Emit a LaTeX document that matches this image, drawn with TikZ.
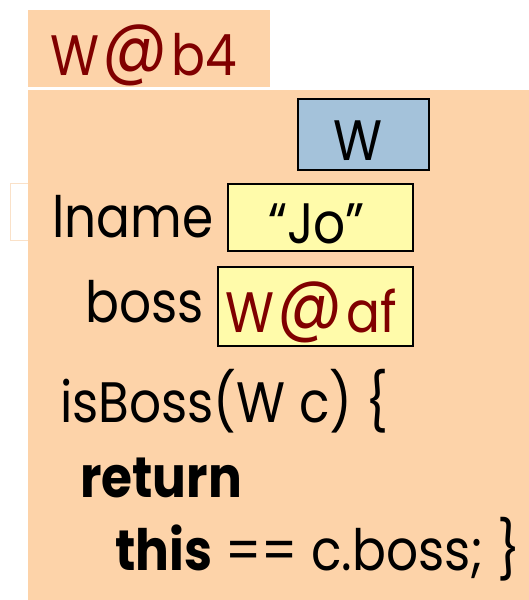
\documentclass[tikz,border=0pt]{standalone}
\usepackage{fontspec}
\setmainfont{Poppins}[FakeStretch=0.88]
\newfontfamily\popbold{Poppins}[UprightFont=* Bold,FakeStretch=0.88]
\newcommand{\bigat}{\kern3pt\raisebox{4pt}{\scalebox{1.28}{@}}\kern4pt}
\definecolor{peach}{RGB}{253,211,169}
\definecolor{ghost}{RGB}{250,225,200}
\definecolor{boxblue}{RGB}{164,194,218}
\definecolor{boxyellow}{RGB}{255,251,170}
\definecolor{darkred}{RGB}{128,0,0}
\begin{document}
\begin{tikzpicture}[x=1pt,y=-1pt,
  txt/.style={anchor=base west,inner sep=0pt,font=\fontsize{57}{62}\selectfont},
  cell/.style={draw=black,line width=1.5pt}]
\useasboundingbox (0,0) rectangle (529,600);
% faint ghost frame
\draw[ghost,line width=1pt] (10,183) rectangle (40,240);
% tab and main box
\fill[peach] (28,10) rectangle (270,87);
\fill[peach] (28,90) rectangle (529,600);
% cells
\draw[cell,fill=boxblue] (298,99) rectangle (429,170);
\draw[cell,fill=boxyellow] (228,184) rectangle (413,251);
\draw[cell,fill=boxyellow] (218,267) rectangle (413,346);
% texts
\node[txt,text=darkred] (tab) at (50,75) {W\bigat b4};
\node[txt] (wname) at (333,160) {W};
\node[txt] (lname) at (52,237) {lname};
\node[txt] (jo) at (268,243) {“Jo”};
\node[txt] (boss) at (85,322) {boss};
\node[txt,text=darkred] (waf) at (225,332) {W\bigat af};
\node[txt] (l1) at (60,422) {isBoss(W c) \{};
\node[txt] (l2) at (80,497) {\popbold return};
\node[txt] (l3) at (115,570) {{\popbold this} == c.boss; \}};
\end{tikzpicture}
\end{document}
